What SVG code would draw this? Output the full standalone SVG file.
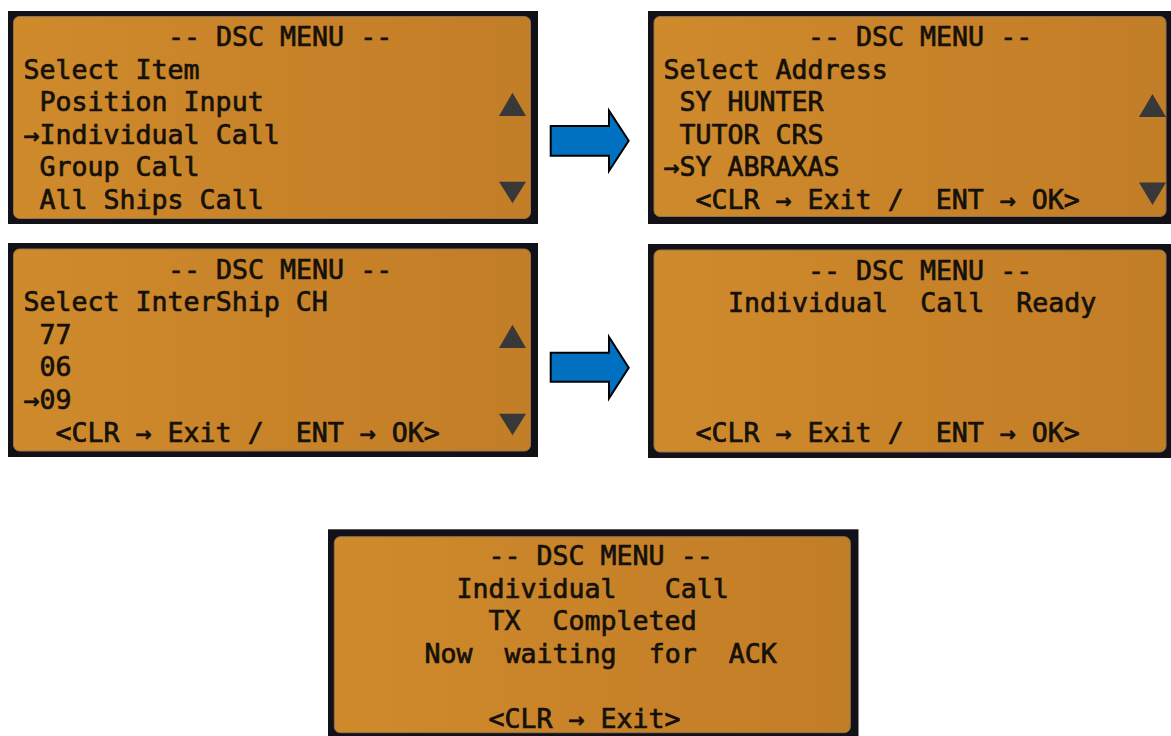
<svg xmlns="http://www.w3.org/2000/svg" width="1171" height="736" viewBox="0 0 1171 736" xml:space="preserve">
<defs>
<linearGradient id="lcdg" x1="0" y1="0" x2="1" y2="0">
<stop offset="0" stop-color="#cf8a2c"/>
<stop offset="1" stop-color="#c27d27"/>
</linearGradient>
<style>
.frame{fill:#121118}
.lcd{fill:url(#lcdg);stroke:#8f7452;stroke-width:1}
.t{font-family:"DejaVu Sans Mono","Liberation Mono",monospace;font-size:26.6px;fill:#15110a;stroke:#15110a;stroke-width:0.7;white-space:pre}
.tri{fill:#383838}
.arrow{fill:#0070c0;stroke:#000;stroke-width:2}
</style>
</defs>
<rect width="1171" height="736" fill="#ffffff"/>

<g id="panel-select-item">
<rect class="frame" x="8" y="11" width="530" height="213"/>
<rect class="lcd" x="13.5" y="16.5" width="517" height="202" rx="6"/>
<text class="t" x="168" y="46">-- DSC MENU --</text>
<text class="t" x="23.5" y="78.5">Select Item</text>
<text class="t" x="39.5" y="111">Position Input</text>
<text class="t" x="23.5" y="143.5">→Individual Call</text>
<text class="t" x="39.5" y="176">Group Call</text>
<text class="t" x="39.5" y="208.5">All Ships Call</text>
<polygon class="tri" points="499,116 512.5,92.7 526,116"/>
<polygon class="tri" points="499,181.7 526,181.7 512.5,203.3"/>
</g>

<g id="panel-select-address">
<rect class="frame" x="648" y="11" width="523" height="213"/>
<rect class="lcd" x="654" y="16.5" width="512" height="200" rx="6"/>
<text class="t" x="808" y="46">-- DSC MENU --</text>
<text class="t" x="663.5" y="78.5">Select Address</text>
<text class="t" x="679.5" y="111">SY HUNTER</text>
<text class="t" x="679.5" y="143.5">TUTOR CRS</text>
<text class="t" x="663.5" y="176">→SY ABRAXAS</text>
<text class="t" x="695.5" y="208.5">&lt;CLR → Exit /  ENT → OK&gt;</text>
<polygon class="tri" points="1139,117 1152.5,94 1166,117"/>
<polygon class="tri" points="1139,182.5 1166,182.5 1152.5,205"/>
</g>

<g id="panel-select-channel">
<rect class="frame" x="8" y="243" width="530" height="214"/>
<rect class="lcd" x="13.5" y="249" width="517" height="202" rx="6"/>
<text class="t" x="168" y="278.5">-- DSC MENU --</text>
<text class="t" x="23.5" y="311">Select InterShip CH</text>
<text class="t" x="39.5" y="343.5">77</text>
<text class="t" x="39.5" y="376">06</text>
<text class="t" x="23.5" y="408.5">→09</text>
<text class="t" x="55.5" y="441.5">&lt;CLR → Exit /  ENT → OK&gt;</text>
<polygon class="tri" points="499,348 512.5,324.7 526,348"/>
<polygon class="tri" points="499,413.7 526,413.7 512.5,435.3"/>
</g>

<g id="panel-call-ready">
<rect class="frame" x="648" y="244" width="523" height="214"/>
<rect class="lcd" x="654" y="250" width="512" height="202" rx="6"/>
<text class="t" x="808" y="279.5">-- DSC MENU --</text>
<text class="t" x="728" y="312">Individual  Call  Ready</text>
<text class="t" x="695.5" y="442">&lt;CLR → Exit /  ENT → OK&gt;</text>
</g>

<g id="panel-tx-completed">
<rect class="frame" x="328" y="529.3" width="530.5" height="220"/>
<rect class="lcd" x="334.3" y="536.7" width="516" height="196" rx="6"/>
<text class="t" x="488.5" y="565">-- DSC MENU --</text>
<text class="t" x="456.5" y="597.5">Individual   Call</text>
<text class="t" x="488.5" y="630">TX  Completed</text>
<text class="t" x="424.5" y="662.5">Now  waiting  for  ACK</text>
<text class="t" x="488.5" y="727.5">&lt;CLR → Exit&gt;</text>
</g>

<g id="connectors">
<polygon class="arrow" points="550.7,126 609,126 609,110.7 628.7,140.7 609,171 609,155.7 550.7,155.7"/>
<polygon class="arrow" points="550.7,352.7 609,352.7 609,337 628.7,367.7 609,398.3 609,381.7 550.7,381.7"/>
</g>
</svg>
